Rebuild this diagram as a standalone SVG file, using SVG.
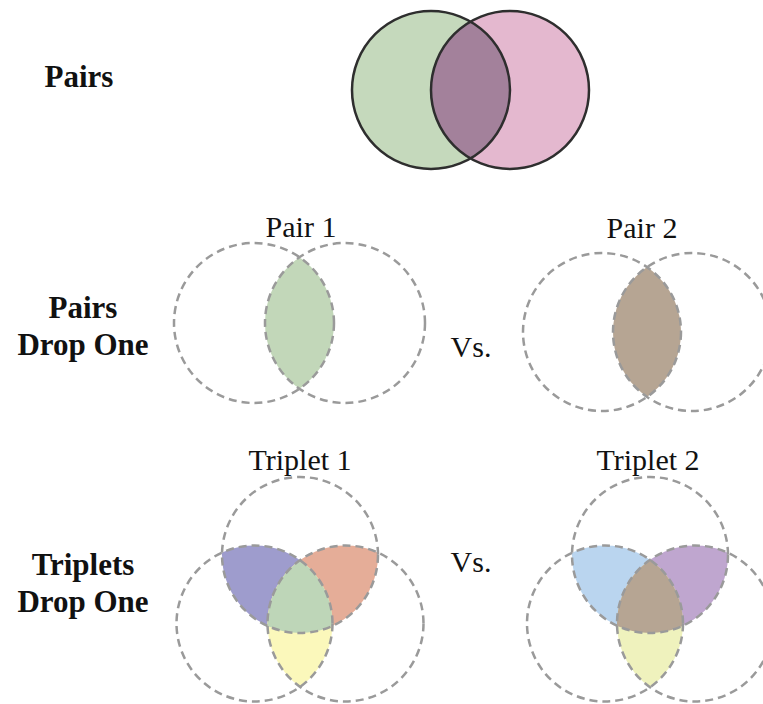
<svg xmlns="http://www.w3.org/2000/svg" width="763" height="704" viewBox="0 0 763 704">
  <style>
    .lbl { font-family: "Liberation Serif", "Times New Roman", serif; font-weight: bold; font-size: 31px; fill: #111; text-anchor: middle; }
    .cap { font-family: "Liberation Serif", "Times New Roman", serif; font-size: 30px; fill: #111; text-anchor: middle; }
    .solid { fill: none; stroke: #2e2e2e; stroke-width: 2.5; }
    .dash { fill: none; stroke: #9a9a9a; stroke-width: 2.5; stroke-dasharray: 8 5; }
  </style>
  <defs>
    <clipPath id="topR"><circle cx="510" cy="90" r="79"/></clipPath>
    <clipPath id="p1R"><circle cx="345" cy="323" r="80"/></clipPath>
    <clipPath id="p2R"><circle cx="692" cy="332" r="79"/></clipPath>
    <clipPath id="t1B"><circle cx="254.5" cy="623.5" r="78"/></clipPath>
    <clipPath id="t1C"><circle cx="345.5" cy="623.5" r="78"/></clipPath>
    <clipPath id="t2B"><circle cx="605" cy="623.5" r="78"/></clipPath>
    <clipPath id="t2C"><circle cx="695" cy="623.5" r="78"/></clipPath>
  </defs>

  <rect width="763" height="704" fill="#ffffff"/>

  <!-- row labels -->
  <g id="row-labels">
    <text class="lbl" x="79" y="87">Pairs</text>
    <text class="lbl" x="83" y="318">Pairs</text>
    <text class="lbl" x="83" y="355">Drop One</text>
    <text class="lbl" x="83" y="575">Triplets</text>
    <text class="lbl" x="83" y="612">Drop One</text>
  </g>

  <!-- full pair -->
  <g id="pairs">
    <circle cx="431" cy="90" r="79" fill="#c5d9bc"/>
    <circle cx="510" cy="90" r="79" fill="#e4b8cf"/>
    <circle cx="431" cy="90" r="79" fill="#a3819b" clip-path="url(#topR)"/>
    <circle class="solid" cx="431" cy="90" r="79"/>
    <circle class="solid" cx="510" cy="90" r="79"/>
  </g>

  <!-- pair 1 -->
  <g id="pair-1">
    <text class="cap" x="301" y="237">Pair 1</text>
    <circle cx="254" cy="323" r="80" fill="#c2d7b9" clip-path="url(#p1R)"/>
    <circle class="dash" cx="254" cy="323" r="80"/>
    <circle class="dash" cx="345" cy="323" r="80"/>
  </g>

  <g id="vs-1">
    <text class="cap" x="471" y="357">Vs.</text>
  </g>

  <!-- pair 2 -->
  <g id="pair-2">
    <text class="cap" x="642" y="238">Pair 2</text>
    <circle cx="602" cy="332" r="79" fill="#b6a593" clip-path="url(#p2R)"/>
    <circle class="dash" cx="602" cy="332" r="79"/>
    <circle class="dash" cx="692" cy="332" r="79"/>
  </g>

  <!-- triplet 1 -->
  <g id="triplet-1">
    <text class="cap" x="300" y="470">Triplet 1</text>
    <circle cx="300" cy="555" r="78" fill="#9e9ccd" clip-path="url(#t1B)"/>
    <circle cx="300" cy="555" r="78" fill="#e5ad98" clip-path="url(#t1C)"/>
    <circle cx="254.5" cy="623.5" r="78" fill="#fbf8bb" clip-path="url(#t1C)"/>
    <g clip-path="url(#t1B)">
      <circle cx="300" cy="555" r="78" fill="#bed6b8" clip-path="url(#t1C)"/>
    </g>
    <circle class="dash" cx="300" cy="555" r="78"/>
    <circle class="dash" cx="254.5" cy="623.5" r="78"/>
    <circle class="dash" cx="345.5" cy="623.5" r="78"/>
  </g>

  <g id="vs-2">
    <text class="cap" x="471" y="572">Vs.</text>
  </g>

  <!-- triplet 2 -->
  <g id="triplet-2">
    <text class="cap" x="648" y="470">Triplet 2</text>
    <circle cx="650" cy="555" r="78" fill="#bad5ef" clip-path="url(#t2B)"/>
    <circle cx="650" cy="555" r="78" fill="#bfa6cf" clip-path="url(#t2C)"/>
    <circle cx="605" cy="623.5" r="78" fill="#eff2bd" clip-path="url(#t2C)"/>
    <g clip-path="url(#t2B)">
      <circle cx="650" cy="555" r="78" fill="#b6a593" clip-path="url(#t2C)"/>
    </g>
    <circle class="dash" cx="650" cy="555" r="78"/>
    <circle class="dash" cx="605" cy="623.5" r="78"/>
    <circle class="dash" cx="695" cy="623.5" r="78"/>
  </g>
</svg>
